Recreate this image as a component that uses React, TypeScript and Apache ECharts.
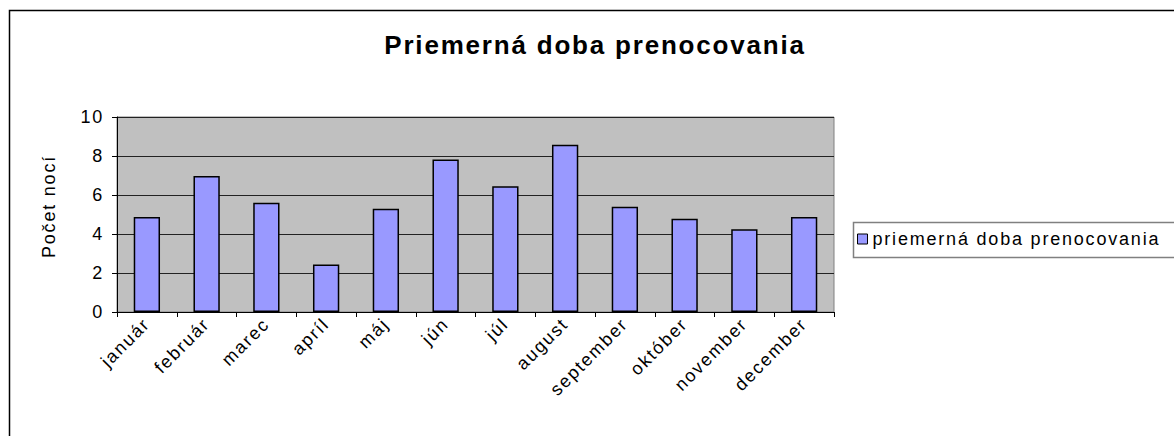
import React, { useEffect, useRef } from "react";
import * as echarts from "echarts";

const titleText = "Priemerná doba prenocovania";
const seriesName = "priemerná doba prenocovania";
const yAxisName = "Počet nocí";
const categories = [
  "január",
  "február",
  "marec",
  "apríl",
  "máj",
  "jún",
  "júl",
  "august",
  "september",
  "október",
  "november",
  "december",
];
const values = [4.87, 6.97, 5.6, 2.44, 5.3, 7.82, 6.45, 8.58, 5.4, 4.78, 4.25, 4.87];
const yMin = 0;
const yMax = 10;
const yInterval = 2;

const FONT = "'Liberation Sans', Arial, sans-serif";

export default function App() {
  const ref = useRef<HTMLDivElement>(null);

  useEffect(() => {
    if (!ref.current) return;
    const chart = echarts.init(ref.current, undefined, { renderer: "svg" });
    chart.setOption({
      animation: false,
      backgroundColor: "#ffffff",
      textStyle: { fontFamily: FONT },
      graphic: [
        {
          type: "rect",
          silent: true,
          z: 0,
          shape: { x: 9.5, y: 10.5, width: 1300, height: 600 },
          style: { fill: "none", stroke: "#000000", lineWidth: 1.5 },
        },
        {
          type: "rect",
          silent: true,
          z: 1,
          shape: { x: 853.5, y: 222.5, width: 400, height: 35 },
          style: { fill: "#ffffff", stroke: "#808080", lineWidth: 1.5 },
        },
        {
          type: "text",
          silent: true,
          x: 595,
          y: 45,
          style: {
            text: titleText,
            fill: "#000000",
            font: `bold 26px ${FONT}`,
            textAlign: "center",
            textVerticalAlign: "middle",
          },
        },
      ],
      legend: {
        orient: "vertical",
        left: 853,
        top: 222,
        z: 10,
        padding: [8, 10, 8, 4],
        itemWidth: 10,
        itemHeight: 10,
        borderWidth: 0,
        backgroundColor: "transparent",
        icon: "rect",
        selectedMode: false,
        textStyle: { fontSize: 18, color: "#000000", fontFamily: FONT },
        itemStyle: { color: "#9999FF", borderColor: "#000000", borderWidth: 1 },
        data: [seriesName],
      },
      grid: {
        left: 117,
        top: 117,
        right: 340,
        bottom: 124,
        show: true,
        backgroundColor: "#C0C0C0",
        borderColor: "#808080",
        borderWidth: 1,
        containLabel: false,
      },
      xAxis: {
        type: "category",
        data: categories,
        boundaryGap: true,
        axisLine: { show: true, lineStyle: { color: "#000000", width: 1 } },
        axisTick: { show: true, length: 5, alignWithLabel: false, lineStyle: { color: "#000000" } },
        axisLabel: {
          rotate: 45,
          interval: 0,
          margin: 9,
          fontSize: 18,
          color: "#000000",
          fontFamily: FONT,
        },
        splitLine: { show: false },
      },
      yAxis: {
        type: "value",
        min: yMin,
        max: yMax,
        interval: yInterval,
        name: yAxisName,
        nameLocation: "middle",
        nameRotate: 90,
        nameGap: 59,
        nameTextStyle: { fontSize: 18, color: "#000000", fontFamily: FONT, padding: [0, 0, 0, 16] },
        axisLine: { show: true, lineStyle: { color: "#000000", width: 1 } },
        axisTick: { show: true, length: 5, lineStyle: { color: "#000000" } },
        axisLabel: { fontSize: 18, color: "#000000", margin: 13, fontFamily: FONT },
        splitLine: { show: true, lineStyle: { color: "#222222", width: 1 } },
      },
      series: [
        {
          name: seriesName,
          type: "bar",
          data: values,
          barCategoryGap: "56%",
          silent: true,
          itemStyle: { color: "#9999FF", borderColor: "#000000", borderWidth: 1.5 },
        },
      ],
    });

    return () => {
      chart.dispose();
    };
  }, []);

  return (
    <>
      <style>{`#chart-root text { letter-spacing: 1.8px; }`}</style>
      <div
        id="chart-root"
        ref={ref}
        style={{ position: "absolute", left: 0, top: 0, width: 1174, height: 436, background: "#fff" }}
      />
    </>
  );
}
